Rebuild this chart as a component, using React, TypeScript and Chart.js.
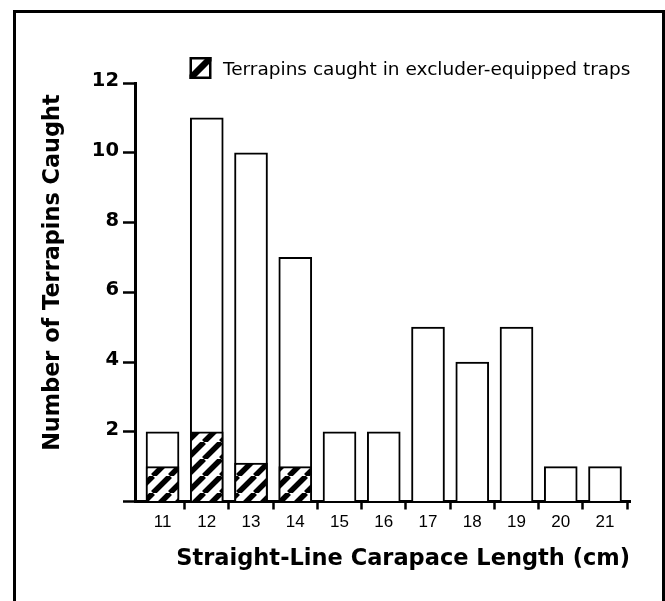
import React, { useEffect, useRef } from "react";
import { Chart, registerables } from "chart.js";

Chart.register(...registerables);

const sizes = [11, 12, 13, 14, 15, 16, 17, 18, 19, 20, 21];
const totalCaught = [2, 11, 10, 7, 2, 2, 5, 4, 5, 1, 1];
const excluderCaught = [1, 2, 1.1, 1, 0, 0, 0, 0, 0, 0, 0];
const yTickValues = [0, 2, 4, 6, 8, 10, 12];
const seriesLabel = "Terrapins caught in excluder-equipped traps";
const totalLabel = "All terrapins caught";
const xTitle = "Straight-Line Carapace Length (cm)";
const yTitle = "Number of Terrapins Caught";

function makeHatch(): CanvasPattern {
  const s = 17;
  const c = document.createElement("canvas");
  c.width = s;
  c.height = s;
  const g = c.getContext("2d")!;
  g.fillStyle = "#fff";
  g.fillRect(0, 0, s, s);
  g.strokeStyle = "#000";
  g.lineWidth = 5.5;
  g.beginPath();
  for (const k of [-1, 0, 1]) {
    g.moveTo(k * s, s);
    g.lineTo(k * s + s, 0);
  }
  g.stroke();
  return g.createPattern(c, "repeat")!;
}

const framePlugin = {
  id: "frame",
  afterDraw(chart: any) {
    const ctx = chart.ctx as CanvasRenderingContext2D;
    ctx.save();
    ctx.strokeStyle = "#000";
    ctx.lineWidth = 3;
    ctx.beginPath();
    ctx.moveTo(14.5, 700);
    ctx.lineTo(14.5, 11.5);
    ctx.lineTo(663.5, 11.5);
    ctx.lineTo(663.5, 700);
    ctx.stroke();
    ctx.restore();
  },
};

const yTitlePlugin = {
  id: "yTitle",
  afterDraw(chart: any) {
    const ctx = chart.ctx as CanvasRenderingContext2D;
    const area = chart.chartArea;
    ctx.save();
    ctx.translate(58.5, area.top + (area.bottom - area.top) * 0.453);
    ctx.rotate(-Math.PI / 2);
    ctx.fillStyle = "#000";
    ctx.font = "bold 22.4px 'DejaVu Sans'";
    ctx.textAlign = "center";
    ctx.textBaseline = "alphabetic";
    ctx.fillText(yTitle, 0, 0);
    ctx.restore();
  },
};

const legendPlugin = {
  id: "hatchLegend",
  afterDraw(chart: any) {
    const ctx = chart.ctx as CanvasRenderingContext2D;
    const ds = chart.data.datasets[0];
    const bx = 189.5, by = 57, bs = 22;
    ctx.save();
    ctx.fillStyle = "#fff";
    ctx.fillRect(bx, by, bs, bs);
    ctx.save();
    ctx.beginPath();
    ctx.rect(bx, by, bs, bs);
    ctx.clip();
    ctx.strokeStyle = "#000";
    ctx.lineWidth = 6.5;
    ctx.beginPath();
    ctx.moveTo(bx - 2, by + bs + 2);
    ctx.lineTo(bx + bs + 2, by - 2);
    ctx.stroke();
    ctx.restore();
    ctx.strokeStyle = "#000";
    ctx.lineWidth = 2.5;
    ctx.strokeRect(bx + 1.25, by + 1.25, bs - 2.5, bs - 2.5);
    ctx.fillStyle = "#000";
    ctx.font = "18.5px 'DejaVu Sans'";
    ctx.textAlign = "left";
    ctx.textBaseline = "alphabetic";
    ctx.fillText(ds.label, 223, 74.5);
    ctx.restore();
  },
};

export default function App() {
  const ref = useRef<HTMLCanvasElement>(null);

  useEffect(() => {
    document.body.style.margin = "0";
    const hatch = makeHatch();
    const xTickValues: number[] = [];
    sizes.forEach((v) => {
      xTickValues.push(v);
      xTickValues.push(v + 0.5);
    });
    const chart = new Chart(ref.current!, {
      type: "bar",
      data: {
        datasets: [
          {
            label: seriesLabel,
            data: sizes.map((x, i) => ({ x, y: excluderCaught[i] })),
            backgroundColor: hatch,
            borderColor: "#000",
            borderWidth: 2,
            barThickness: 33,
            grouped: false,
          } as any,
          {
            label: totalLabel,
            data: sizes.map((x, i) => ({ x, y: totalCaught[i] })),
            backgroundColor: "#fff",
            borderColor: "#000",
            borderWidth: 2,
            barThickness: 33,
            grouped: false,
          } as any,
        ],
      },
      options: {
        animation: false,
        responsive: false,
        devicePixelRatio: 1,
        layout: { padding: { top: 83, right: 35, bottom: 28, left: 0 } },
        plugins: {
          legend: { display: false },
          tooltip: { enabled: false },
        },
        scales: {
          x: {
            type: "linear",
            offset: false,
            min: 10.378,
            max: 21.565,
            afterBuildTicks: (s: any) => {
              s.ticks = xTickValues.map((v) => ({ value: v }));
            },
            afterFit: (s: any) => {
              s.height = 601 - 28 - 501.5;
            },
            border: { display: true, color: "#000", width: 3 },
            grid: {
              offset: false,
              drawOnChartArea: false,
              drawTicks: true,
              tickLength: 8,
              tickWidth: 2.5,
              tickColor: (c: any) =>
                c.tick && !Number.isInteger(c.tick.value) ? "#000" : "rgba(0,0,0,0)",
            },
            ticks: {
              autoSkip: false,
              maxRotation: 0,
              minRotation: 0,
              padding: 3,
              color: "#000",
              font: { family: "'Liberation Sans', Arial", size: 17 },
              callback: (v: any) => (Number.isInteger(v) ? String(v) : ""),
            },
            title: {
              display: true,
              text: xTitle,
              align: "end",
              color: "#000",
              padding: { top: 0, bottom: 0 },
              font: { family: "'DejaVu Sans'", weight: "bold", size: 22.5 },
            },
          } as any,
          y: {
            type: "linear",
            min: 0,
            max: 12,
            afterBuildTicks: (s: any) => {
              s.ticks = yTickValues.map((v) => ({ value: v }));
            },
            afterFit: (s: any) => {
              s.width = 135;
            },
            border: { display: true, color: "#000", width: 3 },
            grid: {
              drawOnChartArea: false,
              drawTicks: true,
              tickLength: 12,
              tickWidth: 2.5,
              tickColor: "#000",
            },
            ticks: {
              padding: 4,
              color: "#000",
              labelOffset: -2,
              font: { family: "'DejaVu Sans'", weight: "bold", size: 19.5 },
              callback: (v: any) => (v === 0 ? "" : String(v)),
            },
          } as any,
        },
      },
      plugins: [framePlugin, yTitlePlugin, legendPlugin],
    });
    return () => chart.destroy();
  }, []);

  return (
    <canvas
      ref={ref}
      width={665}
      height={601}
      style={{ display: "block", width: "665px", height: "601px" }}
    />
  );
}
